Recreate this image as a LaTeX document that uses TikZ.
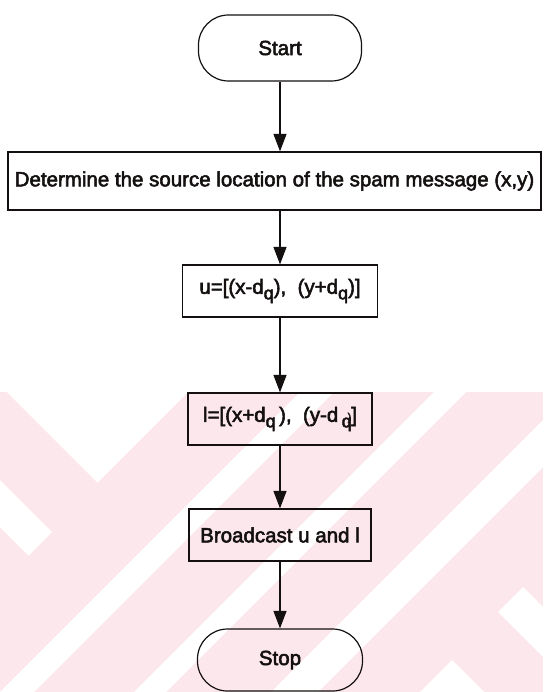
\documentclass[tikz,border=0pt]{standalone}
\usepackage{fontspec}
\setmainfont{Liberation Sans}[FakeBold=2.6]
\usetikzlibrary{arrows.meta}
\definecolor{ink}{RGB}{20,16,16}
\definecolor{wmpink}{RGB}{252,232,236}
% subscript q, set almost at full size and lowered
\newcommand\subq{\raisebox{-0.27em}{\fontsize{18}{18}\selectfont q}}
\begin{document}
\begin{tikzpicture}[x=1pt,y=-1pt,
  font=\fontsize{20.5}{24}\selectfont,
  flowbox/.style={draw=ink, line width=1.2pt, rectangle, inner sep=0pt, text=ink},
  terminal/.style={flowbox, rounded corners=30pt},
  flowarrow/.style={draw=ink, line width=1.2pt, -{Triangle[length=17.5pt,width=13pt]}}]
\useasboundingbox (0,0) rectangle (543,692);

% background watermark: pink field with white diagonal gaps
\fill[wmpink] (0,392) rectangle (543,692);
\begin{scope}
  \clip (0,392) rectangle (543,692);
  \fill[white] (7,392) -- (188,392) -- (97.5,482.5) -- cycle;
  \fill[white] (0,480) -- (52,532) -- (28.5,555.5) -- (0,527) -- cycle;
  \fill[white] (0,692) -- (34,692) -- (334,392) -- (300,392) -- cycle;
  \fill[white] (134,692) -- (166,692) -- (466,392) -- (434,392) -- cycle;
  \fill[white] (271,692) -- (318,692) -- (543,467) -- (543,420) -- cycle;
  \fill[white] (523,587) -- (543,607) -- (543,657) -- (498,612) -- cycle;
  \fill[white] (452,660) -- (484,692) -- (420,692) -- cycle;
\end{scope}

% flowchart nodes
\node[terminal, minimum width=163pt, minimum height=66pt] (start) at (280,48) {Start};
\node[flowbox, minimum width=533pt, minimum height=58pt] (locate) at (274.5,181)
  {Determine the source location of the spam message (x,y)};
\node[flowbox, minimum width=195pt, minimum height=52pt] (upper) at (280,291)
  {u=[(x-d\subq),\ \ (y+d\subq)]};
\node[flowbox, minimum width=184pt, minimum height=52pt] (lower) at (280,419)
  {l=[(x+d\subq\,),\ \ (y-d\,\subq\kern-0.2em\raisebox{0.05em}{\fontsize{11}{11}\selectfont )}]};
\node[flowbox, minimum width=182pt, minimum height=52pt] (bcast) at (280,535)
  {Broadcast u and l};
\node[terminal, minimum width=165pt, minimum height=62pt] (stop) at (280,660) {Stop};

% connectors
\draw[flowarrow] (start) -- (start |- locate.north);
\draw[flowarrow] (locate.south -| upper) -- (upper);
\draw[flowarrow] (upper) -- (lower);
\draw[flowarrow] (lower) -- (bcast);
\draw[flowarrow] (bcast) -- (stop);
\end{tikzpicture}
\end{document}
